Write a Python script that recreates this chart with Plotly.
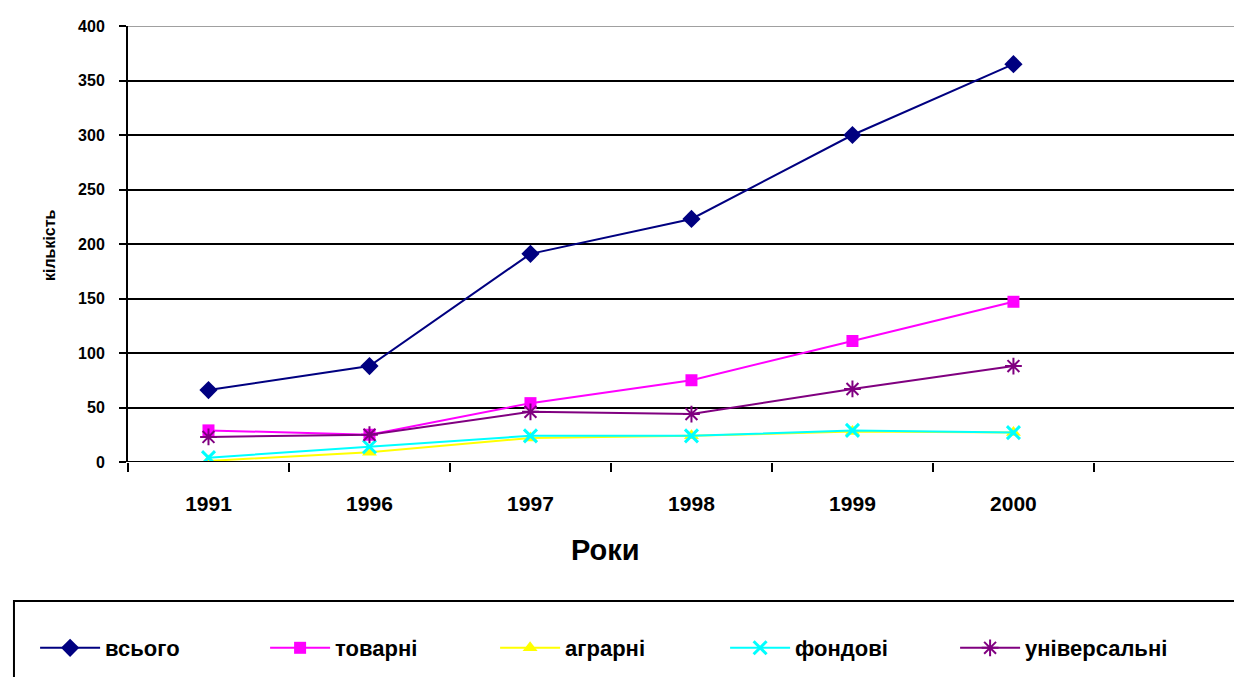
import plotly.graph_objects as go

# Роки та кількість бірж за типами
years = ["1991", "1996", "1997", "1998", "1999", "2000"]
vsogo = [66, 88, 191, 223, 300, 365]
tovarni = [29, 25, 54, 75, 111, 147]
agrarni = [1, 9, 22, 24, 28, 27]
fondovi = [4, 14, 24, 24, 29, 27]
universalni = [23, 25, 46, 44, 67, 88]

y_ticks = [0, 50, 100, 150, 200, 250, 300, 350, 400]

xpos = list(range(len(years)))

series = [
    ("всього", vsogo, "#000080", dict(symbol="diamond", size=14)),
    ("товарні", tovarni, "#FF00FF", dict(symbol="square", size=12)),
    ("аграрні", agrarni, "#FFFF00", dict(symbol="triangle-up", size=13)),
    ("фондові", fondovi, "#00FFFF", dict(symbol="x-thin-open", size=13, line=dict(width=3, color="#00FFFF"))),
    ("універсальні", universalni, "#800080", dict(symbol="asterisk-open", size=14, line=dict(width=2, color="#800080"))),
]

fig = go.Figure()
for name, vals, color, marker in series:
    marker = dict(marker)
    marker["color"] = color
    fig.add_trace(go.Scatter(
        x=xpos, y=vals, name=name, mode="lines+markers",
        line=dict(color=color, width=2), marker=marker,
    ))

font_family = "Liberation Sans, Arial, sans-serif"

fig.update_layout(
    width=1234, height=677,
    margin=dict(l=128, r=0, t=26, b=215),
    plot_bgcolor="white", paper_bgcolor="white",
    font=dict(family=font_family, color="black"),
    showlegend=True,
    legend=dict(
        orientation="h", x=-0.084, xanchor="left", y=-0.4266, yanchor="middle",
        font=dict(size=22, family=font_family, color="black", weight="bold"),
        bgcolor="rgba(0,0,0,0)", borderwidth=0,
        itemwidth=60,
        entrywidth=155, entrywidthmode="pixels",
    ),
    xaxis=dict(
        range=[-0.5, 6.37], tickvals=xpos, ticktext=years,
        ticks="", showgrid=False, zeroline=False,
        showline=False,
        tickfont=dict(size=21, weight="bold", family=font_family),
        ticklabelstandoff=27,
        minor=dict(ticks="outside", tick0=0.5, dtick=1, ticklen=9, tickwidth=2,
                   tickcolor="black", showgrid=False),
    ),
    yaxis=dict(
        range=[0, 400], tickvals=y_ticks, ticks="outside", ticklen=7, tickwidth=2,
        tickcolor="black", showline=True, linecolor="black", linewidth=2,
        showgrid=True, gridcolor="black", gridwidth=2, zeroline=False,
        tickfont=dict(size=16, weight="bold", family=font_family),
        ticklabelstandoff=11,
    ),
    shapes=[
        # верхня межа області побудови
        dict(type="line", xref="paper", yref="y", x0=0, x1=1, y0=400, y1=400,
             line=dict(color="#A0A0A0", width=2)),
        # вісь X
        dict(type="line", xref="paper", yref="y", x0=0, x1=1, y0=0, y1=0,
             line=dict(color="black", width=2)),
        # рамка легенди
        dict(type="rect", xref="paper", yref="paper", x0=-0.1031, x1=1.05,
             y0=-0.3188, y1=-0.6, line=dict(color="black", width=2),
             fillcolor="rgba(0,0,0,0)"),
    ],
    annotations=[
        dict(text="кількість", xref="paper", yref="paper", x=-0.0714, y=0.4977,
             xanchor="center", yanchor="middle",
             textangle=-90, showarrow=False,
             font=dict(size=16, weight="bold", family=font_family)),
        dict(text="Роки", xref="paper", yref="paper", x=0.432, y=-0.2018,
             xanchor="center", yanchor="middle",
             showarrow=False, font=dict(size=29, weight="bold", family=font_family)),
    ],
)

fig.write_html("out.html")
